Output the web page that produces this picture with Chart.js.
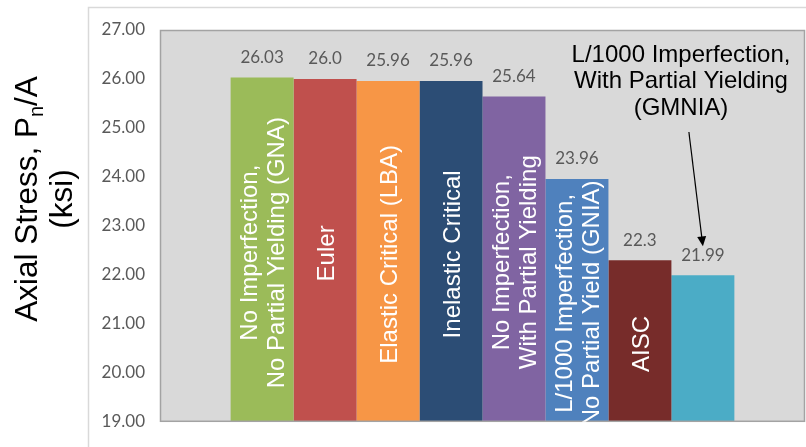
<!DOCTYPE html>
<html>
<head>
<meta charset="utf-8">
<script src="https://cdn.jsdelivr.net/npm/chart.js@4.4.1/dist/chart.umd.min.js"></script>
<style>
  html, body { margin: 0; padding: 0; background: #ffffff; }
  canvas { display: block; }
</style>
</head>
<body>
<canvas id="chart" width="806" height="447"></canvas>
<script>
// Buckling capacity by analysis method
const seriesNames = [
  'No Imperfection,\nNo Partial Yielding (GNA)',
  'Euler',
  'Elastic Critical (LBA)',
  'Inelastic Critical',
  'No Imperfection,\nWith Partial Yielding',
  'L/1000 Imperfection,\nNo Partial Yield (GNIA)',
  'AISC',
  'L/1000 Imperfection,\nWith Partial Yielding\n(GMNIA)'
];
const valueText = ['26.03', '26.0', '25.96', '25.96', '25.64', '23.96', '22.3', '21.99'];
const values = valueText.map(Number);
const barColors = ['#9BBB59', '#C0504D', '#F79646', '#2C4D75', '#8064A2', '#4F81BD', '#772C2A', '#4BACC6'];
// the last series is named by a callout with an arrow instead of an inside label
const nameInside = [true, true, true, true, true, true, true, false];
const yMin = 19, yMax = 27, yStep = 1;
const yTitleLines = [['Axial Stress, P', 'n', '/A'], ['(ksi)']];

const TICK_FONT = '17px Lato, Calibri, sans-serif';
const SANS = '"Liberation Sans", Arial, sans-serif';

const decorations = {
  id: 'decorations',
  beforeDraw(chart) {
    const { ctx, chartArea: a, width, height } = chart;
    ctx.save();
    ctx.fillStyle = '#ffffff';
    ctx.fillRect(0, 0, width, height);
    // outer frame
    ctx.strokeStyle = '#d9d9d9';
    ctx.lineWidth = 1.5;
    ctx.strokeRect(88.5, 7.5, width, height);
    // plot background
    ctx.fillStyle = '#d9d9d9';
    ctx.fillRect(a.left, a.top, a.right - a.left, a.bottom - a.top);
    ctx.restore();
  },
  afterDatasetsDraw(chart) {
    const { ctx, chartArea: a } = chart;
    const yScale = chart.scales.y;
    const basePx = yScale.getPixelForValue(yMin);
    ctx.save();
    // plot border
    ctx.strokeStyle = '#a3a3a3';
    ctx.lineWidth = 1.5;
    ctx.strokeRect(a.left + 0.5, a.top + 0.5, a.right - a.left - 1, a.bottom - a.top - 1);

    chart.data.datasets.forEach((ds, i) => {
      const bar = chart.getDatasetMeta(i).data[0];
      const x = bar.x;
      const y = yScale.getPixelForValue(values[i]);
      // value above the bar
      ctx.fillStyle = '#595959';
      ctx.font = TICK_FONT;
      ctx.textAlign = 'center';
      ctx.textBaseline = 'middle';
      ctx.fillText(valueText[i], x, y - 20);

      // name written up the bar
      if (nameInside[i]) {
        const lines = seriesNames[i].split('\n');
        const lh = 27;
        ctx.save();
        ctx.beginPath();
        ctx.rect(a.left, a.top, a.right - a.left, a.bottom - a.top);
        ctx.clip();
        ctx.translate(x + 2, (y + basePx) / 2 + 3);
        ctx.rotate(-Math.PI / 2);
        ctx.fillStyle = '#ffffff';
        ctx.font = '24px ' + SANS;
        ctx.textAlign = 'center';
        ctx.textBaseline = 'middle';
        lines.forEach((ln, k) => {
          ctx.fillText(ln, 0, (k - (lines.length - 1) / 2) * lh);
        });
        ctx.restore();
      }
    });

    // callout for the last series
    const last = chart.data.datasets.length - 1;
    const lx = chart.getDatasetMeta(last).data[0].x;
    const ly = yScale.getPixelForValue(values[last]);
    const calloutLines = seriesNames[last].split('\n');
    ctx.fillStyle = '#000000';
    ctx.font = '24px ' + SANS;
    ctx.textAlign = 'center';
    ctx.textBaseline = 'middle';
    const cx = a.right - 124;
    calloutLines.forEach((ln, k) => ctx.fillText(ln, cx, a.top + 25 + k * 26.5));
    const x0 = lx - 14, y0 = a.top + 102;
    const x1 = lx, y1 = ly - 29;
    const ang = Math.atan2(y1 - y0, x1 - x0);
    ctx.strokeStyle = '#000000';
    ctx.lineWidth = 1.2;
    ctx.beginPath();
    ctx.moveTo(x0, y0);
    ctx.lineTo(x1 - Math.cos(ang) * 8, y1 - Math.sin(ang) * 8);
    ctx.stroke();
    ctx.beginPath();
    ctx.moveTo(x1, y1);
    ctx.lineTo(x1 - Math.cos(ang) * 10 + Math.sin(ang) * 4.5, y1 - Math.sin(ang) * 10 - Math.cos(ang) * 4.5);
    ctx.lineTo(x1 - Math.cos(ang) * 10 - Math.sin(ang) * 4.5, y1 - Math.sin(ang) * 10 + Math.cos(ang) * 4.5);
    ctx.closePath();
    ctx.fill();

    // y axis title with subscript
    ctx.save();
    ctx.translate(0, 199);
    ctx.rotate(-Math.PI / 2);
    ctx.fillStyle = '#000000';
    ctx.textBaseline = 'alphabetic';
    ctx.textAlign = 'left';
    const mainFont = '31.5px ' + SANS, subFont = '20px ' + SANS;
    const baselines = [37, 72];
    yTitleLines.forEach((parts, li) => {
      const fonts = parts.length === 3 ? [mainFont, subFont, mainFont] : [mainFont];
      const widths = parts.map((p, k) => { ctx.font = fonts[k]; return ctx.measureText(p).width; });
      let px = -widths.reduce((s, w) => s + w, 0) / 2;
      parts.forEach((p, k) => {
        ctx.font = fonts[k];
        const dy = (parts.length === 3 && k === 1) ? 6 : 0;
        ctx.fillText(p, px, baselines[li] + dy);
        px += widths[k];
      });
    });
    ctx.restore();
    ctx.restore();
  }
};

new Chart(document.getElementById('chart'), {
  type: 'bar',
  data: {
    labels: [''],
    datasets: seriesNames.map((name, i) => ({
      label: name,
      data: [values[i]],
      backgroundColor: barColors[i],
      borderWidth: 0,
      barPercentage: 1,
      categoryPercentage: 0.781
    }))
  },
  options: {
    responsive: false,
    animation: false,
    layout: { padding: { top: 30, right: 1, bottom: 19, left: 0 } },
    plugins: {
      legend: { display: false },
      tooltip: { enabled: false }
    },
    scales: {
      x: { display: false },
      y: {
        min: yMin,
        max: yMax,
        afterFit(scale) { scale.width = 160; },
        grid: { display: false, drawTicks: false },
        border: { display: false },
        ticks: {
          stepSize: yStep,
          padding: 15,
          color: '#595959',
          font: { family: 'Lato, Calibri, sans-serif', size: 17 },
          callback: v => Number(v).toFixed(2)
        }
      }
    }
  },
  plugins: [decorations]
});
</script>
</body>
</html>
